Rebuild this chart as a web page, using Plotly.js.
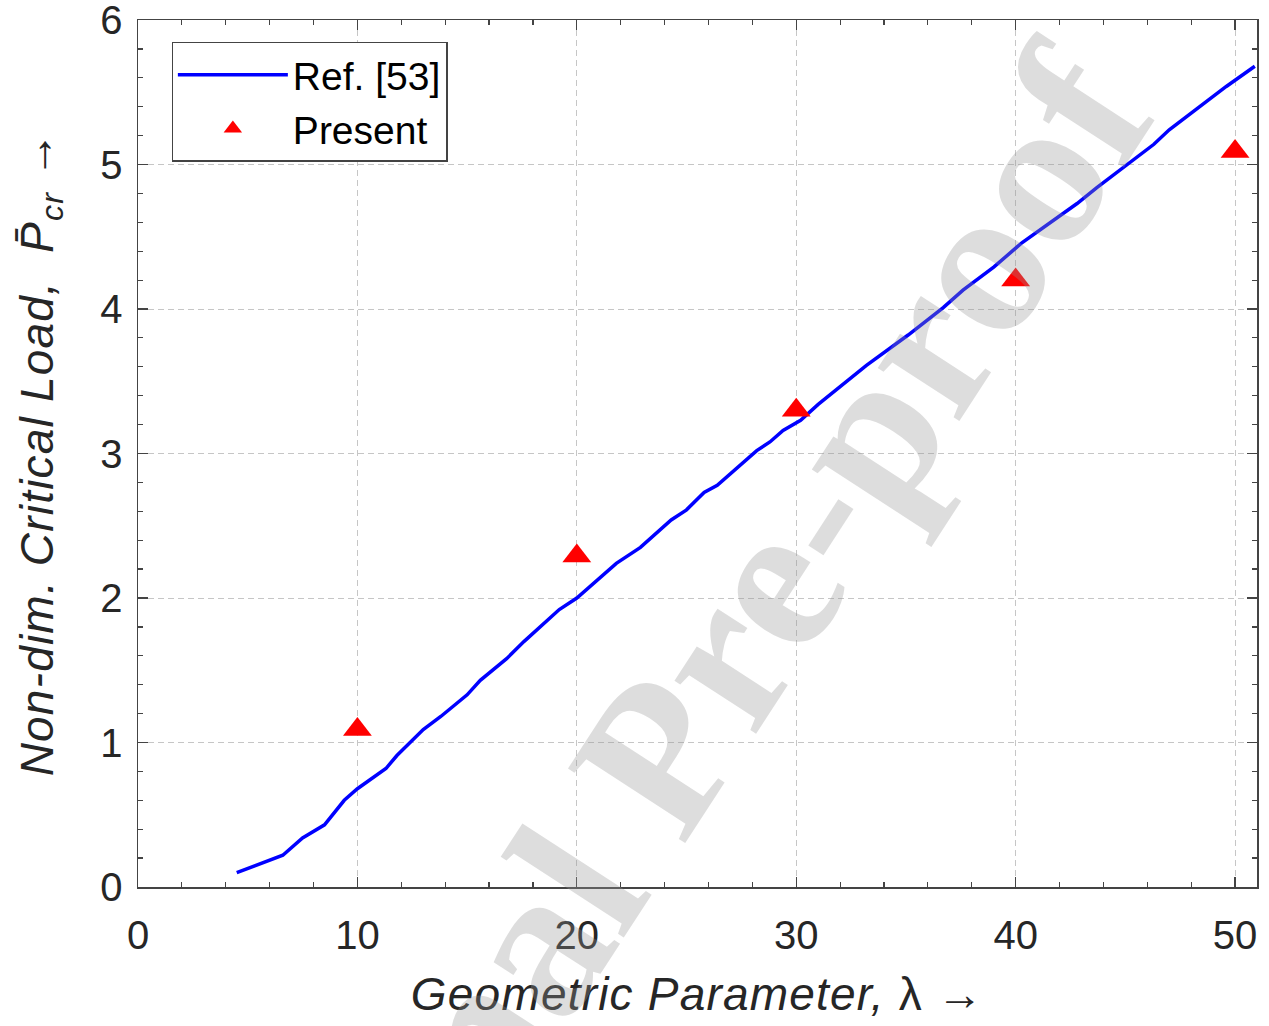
<!DOCTYPE html>
<html>
<head>
<meta charset="utf-8">
<script src="https://cdn.plot.ly/plotly-3.0.1.min.js"></script>
<style>
  html, body { margin: 0; padding: 0; background: #ffffff; }
  #chart { width: 1269px; height: 1026px; }
  #chart .g-xtitle text, #chart .g-ytitle text { letter-spacing: 1.2px; }
</style>
</head>
<body>
<div id="chart"></div>
<script>
// ---- Data ----
const refLambda = [4.5, 5.7, 6.6, 7.5, 8.5, 9.4, 10.0, 11.3, 11.8, 13.0, 13.8, 15.0, 15.6, 16.8, 17.6,
                   19.2, 20.0, 21.8, 22.9, 24.3, 25.0, 25.8, 26.4, 28.2, 28.8, 29.4, 30.2, 31.0,
                   32.0, 33.2, 35.1, 36.7, 37.6, 39.0, 40.3, 41.6, 42.8, 43.7, 45.2, 46.3, 47.0,
                   48.4, 49.6, 50.9];
const refLoad   = [0.10, 0.17, 0.22, 0.34, 0.43, 0.60, 0.68, 0.82, 0.91, 1.09, 1.18, 1.33, 1.43, 1.58, 1.70,
                   1.92, 2.00, 2.24, 2.35, 2.54, 2.61, 2.73, 2.78, 3.02, 3.08, 3.16, 3.23, 3.34,
                   3.46, 3.61, 3.82, 4.01, 4.13, 4.29, 4.46, 4.60, 4.73, 4.84, 5.01, 5.14, 5.24,
                   5.40, 5.54, 5.68];
const presentLambda = [10, 20, 30, 40, 50];
const presentLoad   = [1.09, 2.29, 3.30, 4.20, 5.09];

const xTickVals = [0, 10, 20, 30, 40, 50];
const yTickVals = [0, 1, 2, 3, 4, 5, 6];

const seriesNames = ["Ref. [53]", "Present"];
const xTitle = "<i>Geometric Parameter,</i> λ →";
const yTitle = "<i>Non-dim. Critical Load,&nbsp;&nbsp;P̄<sub>cr</sub></i> →";
const watermark = "Journal Pre-proof";

const FONT = "Liberation Sans, Arial, Helvetica, sans-serif";
const TXT = "#262626";
const AX = "#444444";

const traces = [
  {
    x: refLambda, y: refLoad, type: "scatter", mode: "lines",
    name: seriesNames[0],
    line: { color: "#0000ff", width: 3.5 }
  },
  {
    x: presentLambda, y: presentLoad, type: "scatter", mode: "markers",
    name: seriesNames[1],
    marker: { symbol: "triangle-up", color: "#ff0000", size: 25, line: { width: 0 } }
  }
];

const axisCommon = {
  showline: true, linecolor: AX, linewidth: 1.5, mirror: "allticks",
  ticks: "inside", ticklen: 10, tickwidth: 1.3, tickcolor: AX,
  showgrid: true, gridcolor: "#c6c6c6", gridwidth: 1, griddash: "6px,4px",
  zeroline: false,
  tickfont: { family: FONT, size: 40, color: TXT }
};

const layout = {
  width: 1269, height: 1026,
  paper_bgcolor: "#ffffff", plot_bgcolor: "#ffffff",
  margin: { l: 138, r: 12, t: 20, b: 139 },
  showlegend: true,
  xaxis: Object.assign({}, axisCommon, {
    range: [0, 51], tickmode: "array", tickvals: xTickVals,
    ticklabelstandoff: 12,
    minor: { dtick: 2, tick0: 0, ticks: "inside", ticklen: 5, tickwidth: 1.2, tickcolor: AX, showgrid: false },
    title: { text: xTitle, font: { family: FONT, size: 46, color: TXT }, standoff: 22 }
  }),
  yaxis: Object.assign({}, axisCommon, {
    range: [0, 6], tickmode: "array", tickvals: yTickVals,
    ticklabelstandoff: 6, ticklabeloverflow: "allow",
    minor: { dtick: 0.2, tick0: 0, ticks: "inside", ticklen: 5, tickwidth: 1.2, tickcolor: AX, showgrid: false },
    title: { text: yTitle, font: { family: FONT, size: 46, color: TXT }, standoff: 32 }
  }),
  legend: {
    x: 0.03, y: 0.975, xanchor: "left", yanchor: "top",
    bgcolor: "#ffffff", bordercolor: AX, borderwidth: 1.3,
    font: { family: FONT, size: 39, color: "#000000" },
    itemwidth: 110, tracegroupgap: 0
  },
  annotations: [
    {
      xref: "paper", yref: "paper", x: 0.462, y: 0.148,
      xanchor: "center", yanchor: "middle",
      text: "<b>" + watermark + "</b>", showarrow: false, textangle: -57,
      font: { family: "Liberation Serif, Times New Roman, serif", size: 212, color: "rgba(150,150,150,0.32)" }
    }
  ]
};

Plotly.newPlot("chart", traces, layout, { staticPlot: true, displayModeBar: false });
</script>
</body>
</html>
